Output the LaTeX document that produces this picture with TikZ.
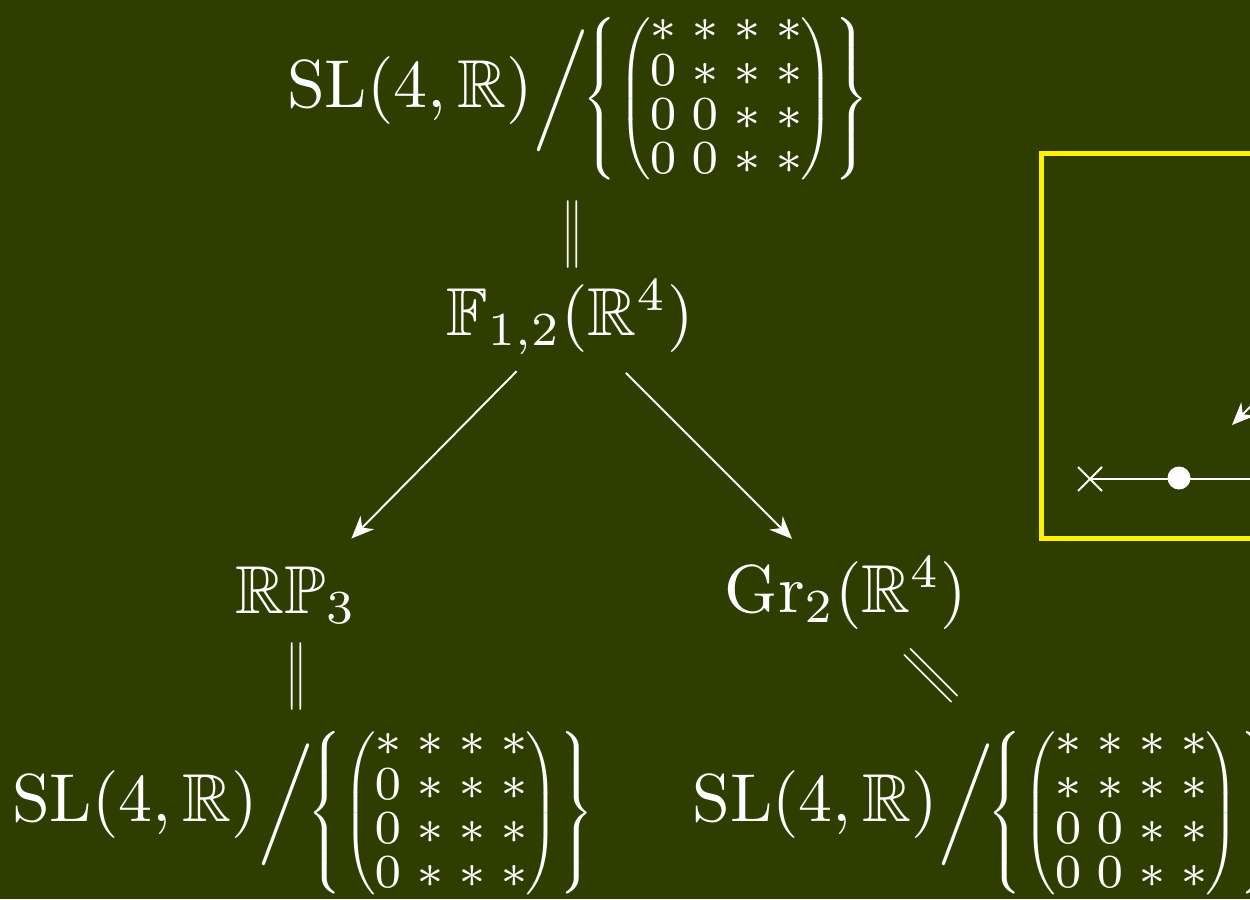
\documentclass[tikz,border=0pt]{standalone}
\usepackage{amsmath,amssymb,array}
\usetikzlibrary{arrows.meta}
\definecolor{slidebg}{RGB}{45,62,0}
\definecolor{boxyellow}{RGB}{255,242,0}
\renewcommand{\arraystretch}{0.54}
\setlength{\arraycolsep}{1.05pt}
% SL(4,R) divided by a block upper triangular group, rows given as arguments
\newcommand{\slquot}[4]{\mathrm{SL}(4,\mathbb{R})\Big/\kern-0.8pt{\scriptscriptstyle\left\{\left(\kern-0.3pt
  \begin{array}{@{}*{4}{>{\scriptstyle}c}@{}}#1\\\relax#2\\\relax#3\\\relax#4\end{array}\kern-0.3pt\right)\right\}}}

\begin{document}
\begin{tikzpicture}[
  x=0.02cm, y=-0.02cm,
  every node/.style={text=white, inner sep=0pt, scale=3.86},
  arr/.style ={draw=white, line width=1.1pt, -{Stealth[length=0.45cm,width=0.38cm]}},
  thin/.style={draw=white, line width=1.1pt},
  eqbar/.style={xscale=0.65},
]
\fill[slidebg] (0,0) rectangle (1250,899);
\useasboundingbox (0,0) rectangle (1250,899);
\clip (0,0) rectangle (1250,899);

% ---------------------------------------------- the fibration diagram
\node[anchor=west] (flagquot) at (286,99) {$\slquot{* & * & * & *}{0 & * & * & *}{0 & 0 & * & *}{0 & 0 & * & *}$};
\node[eqbar] (eqtop) at (573,235) {$\Vert$};
\node[anchor=base] (flag) at (570,335) {$\mathbb{F}_{1,2}(\mathbb{R}^4)$};

\node[anchor=base] (proj) at (296,613) {$\mathbb{RP}_3$};
\node[anchor=base] (grass) at (846,612) {$\mathrm{Gr}_2(\mathbb{R}^4)$};

\draw[arr, shorten <=1.52cm, shorten >=1.58cm] (flag.center) -- (proj.center);
\draw[arr, shorten <=1.58cm, shorten >=1.53cm] (flag.center) -- (grass.center);

\node[eqbar] (eqleft) at (297,677) {$\Vert$};
\node[rotate=45, eqbar] (eqright) at (931,676) {$\Vert$};

\node[anchor=west] (projquot) at (11,813) {$\slquot{* & * & * & *}{0 & * & * & *}{0 & * & * & *}{0 & * & * & *}$};
\node[anchor=west] (grassquot) at (691,813) {$\slquot{* & * & * & *}{* & * & * & *}{0 & 0 & * & *}{0 & 0 & * & *}$};

% ---------------------------------------------- yellow inset, cut by the frame
\draw[boxyellow, line width=0.1cm] (1041,153) rectangle (1320,538);
\coordinate (cross) at (1090,479);
\coordinate (dot) at (1179,478);
\coordinate (push) at (1300,357);
\draw[thin] (cross) -- (1300,479);
\draw[thin] ([shift={(-12,-12)}]cross) -- ([shift={(12,12)}]cross);
\draw[thin] ([shift={(-12,12)}]cross) -- ([shift={(12,-12)}]cross);
\fill[white] (dot) circle (0.23cm);
\draw[arr, shorten >=1.5cm] (push) -- (dot);
\end{tikzpicture}
\end{document}
